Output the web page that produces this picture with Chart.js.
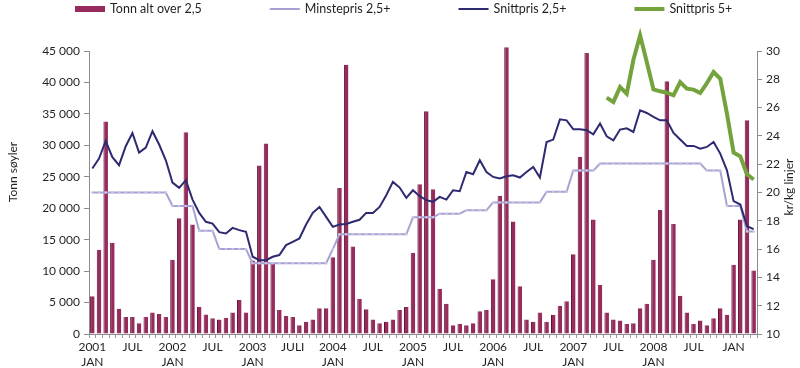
<!DOCTYPE html>
<html>
<head>
<meta charset="utf-8">
<script src="https://cdn.jsdelivr.net/npm/chart.js@4.4.0/dist/chart.umd.min.js"></script>
<style>
  html, body { margin: 0; padding: 0; background: #fff; }
  #wrap { width: 800px; height: 368px; }
</style>
</head>
<body>
<div id="wrap"><canvas id="chartTonn"></canvas></div>
<script>
// ===============================
// DATA (månedlig, jan 2001 – apr 2009)
// ===============================
const aarListe = ["2001", "2002", "2003", "2004", "2005", "2006", "2007", "2008", "2009"];
const mndListe = ["JAN", "FEB", "MAR", "APR", "MAI", "JUN", "JUL", "AUG", "SEP", "OKT", "NOV", "DES"];

// tick-tekster hvert halvår (jan/jul)
const tickTekster = [
    ["2001", "JAN"], "JUL", ["2002", "JAN"], "JUL", ["2003", "JAN"], "JULI",
    ["2004", "JAN"], "JUL", ["2005", "JAN"], "JUL", ["2006", "JAN"], "JUL",
    ["2007", "JAN"], "JUL", ["2008", "JAN"], "JUL", "JAN"
];

const tonnAltOver25 = [
    6000, 13400, 33800, 14500, 4000, 2700, 2700, 1700, 2700, 3400, 3200, 2700,
    11800, 18400, 32100, 17400, 4300, 3100, 2500, 2300, 2600, 3400, 5400, 3400,
    11700, 26800, 30300, 11300, 3800, 2850, 2700, 1400, 1950, 2300, 4100, 4100,
    12200, 23200, 42800, 13900, 5600, 3950, 2300, 1700, 1950, 2300, 3800, 4300,
    12900, 23800, 35400, 23000, 7200, 4800, 1400, 1600, 1400, 1700, 3600, 3800,
    8700, 22000, 45600, 17900, 7600, 2300, 1950, 3400, 1950, 3050, 4500, 5200,
    12700, 28200, 44700, 18200, 7800, 3400, 2300, 2150, 1600, 1700, 4100, 4800,
    11800, 19700, 40200, 17500, 6100, 3400, 1600, 2150, 1400, 2500, 4100, 3050,
    11000, 18200, 34000, 10100
];

const minstepris25 = [
    20, 20, 20, 20, 20, 20, 20, 20, 20, 20, 20, 20,
    19.05, 19.05, 19.05, 19.05, 17.3, 17.3, 17.3, 16, 16, 16, 16, 16,
    15, 15, 15, 15, 15, 15, 15, 15, 15, 15, 15, 15,
    16, 17.05, 17.05, 17.05, 17.05, 17.05, 17.05, 17.05, 17.05, 17.05, 17.05, 17.05,
    18.25, 18.25, 18.25, 18.25, 18.5, 18.5, 18.5, 18.5, 18.75, 18.75, 18.75, 18.75,
    19.3, 19.3, 19.3, 19.3, 19.3, 19.3, 19.3, 19.3, 20.05, 20.05, 20.05, 20.05,
    21.55, 21.55, 21.55, 21.55, 22.05, 22.05, 22.05, 22.05, 22.05, 22.05, 22.05, 22.05,
    22.05, 22.05, 22.05, 22.05, 22.05, 22.05, 22.05, 22.05, 21.55, 21.55, 21.55, 19.05,
    19.05, 19.05, 17.25, 17.25
];

const snittpris25 = [
    21.7, 22.4, 23.64, 22.5, 21.93, 23.27, 24.2, 22.82, 23.17, 24.33, 23.39, 22.28,
    20.7, 20.33, 20.87, 19.5, 18.56, 17.93, 17.8, 17.2, 17.1, 17.5, 17.34, 17.22,
    15.46, 15.22, 15.22, 15.46, 15.58, 16.28, 16.51, 16.75, 17.74, 18.56, 18.98, 18.28,
    17.57, 17.74, 17.77, 17.93, 18.07, 18.56, 18.56, 18.98, 19.81, 20.75, 20.35, 19.62,
    20.16, 19.74, 19.46, 19.34, 19.69, 19.5, 20.16, 20.09, 21.45, 21.29, 22.28, 21.45,
    21.1, 20.99, 21.15, 21.22, 21.06, 21.45, 21.81, 21.06, 23.57, 23.74, 25.17, 25.1,
    24.47, 24.47, 24.4, 24.11, 24.87, 23.97, 23.69, 24.45, 24.54, 24.28, 25.81, 25.62,
    25.34, 25.1, 25.1, 24.21, 23.74, 23.29, 23.29, 23.1, 23.22, 23.57, 22.75, 21.57,
    19.39, 19.15, 17.62, 17.41
];

// Snittpris 5+ starter juni 2007
const snittpris5Start = 77;
const snittpris5 = [
    26.7, 26.39, 27.45, 26.98, 29.38, 31.1, 29.22,
    27.29, 27.15, 27.05, 26.87, 27.8, 27.34, 27.27, 27.03, 27.73, 28.51, 28.04, 25.58,
    22.82, 22.56, 21.29, 20.92
];

// ===============================
// KATEGORIER
// ===============================
const maaneder = [];
aarListe.forEach(a => mndListe.forEach(m => maaneder.push(m + " " + a)));
maaneder.length = tonnAltOver25.length;

const snitt5Full = maaneder.map((_, i) =>
    i >= snittpris5Start ? snittpris5[i - snittpris5Start] : null);

const FONT = "Lato, 'Open Sans', sans-serif";
const TEKST = "#231f20";
const AKSE = "#8c8c8c";

const farger = {
    tonn: "#982b5e",
    minste: "#a7a2d3",
    snitt: "#2c2a70",
    snitt5: "#74a23c"
};

const fmtTusen = v => String(v).replace(/\B(?=(\d{3})+(?!\d))/g, " ");

// ===============================
// LEGENDE + AKSETITLER (egen plugin)
// ===============================
const legendeItems = [
    { tekst: "Tonn alt over 2,5", type: "bar", farge: farger.tonn },
    { tekst: "Minstepris 2,5+", type: "line", farge: farger.minste, bredde: 2 },
    { tekst: "Snittpris 2,5+", type: "line", farge: farger.snitt, bredde: 2 },
    { tekst: "Snittpris 5+", type: "line", farge: farger.snitt5, bredde: 4 }
];

const egenPynt = {
    id: "egenPynt",
    afterDraw(chart) {
        const ctx = chart.ctx;
        ctx.save();
        ctx.font = "12.5px " + FONT;
        ctx.fillStyle = TEKST;
        ctx.textBaseline = "middle";

        let x = 75;
        const y = 9;
        legendeItems.forEach(it => {
            if (it.type === "bar") {
                ctx.fillStyle = it.farge;
                ctx.fillRect(x, y - 3, 30, 6);
            } else {
                ctx.strokeStyle = it.farge;
                ctx.lineWidth = it.bredde;
                ctx.beginPath();
                ctx.moveTo(x, y);
                ctx.lineTo(x + 30, y);
                ctx.stroke();
            }
            ctx.fillStyle = TEKST;
            ctx.textAlign = "left";
            ctx.fillText(it.tekst, x + 35, y);
            x += 35 + ctx.measureText(it.tekst).width + 68;
        });

        // aksetitler
        ctx.font = "12px " + FONT;
        ctx.textAlign = "center";
        ctx.translate(13, 172);
        ctx.rotate(-Math.PI / 2);
        ctx.fillText("Tonn søyler", 0, 0);
        ctx.restore();

        ctx.save();
        ctx.font = "12px " + FONT;
        ctx.fillStyle = TEKST;
        ctx.textAlign = "center";
        ctx.textBaseline = "middle";
        ctx.translate(789, 187);
        ctx.rotate(-Math.PI / 2);
        ctx.fillText("kr/kg linjer", 0, 0);
        ctx.restore();
    }
};

// ===============================
// GRAF
// ===============================
const canvas = document.getElementById("chartTonn");

new Chart(canvas, {
    type: "bar",
    data: {
        labels: maaneder,
        datasets: [
            {
                type: "line",
                label: "Snittpris 5+",
                data: snitt5Full,
                yAxisID: "y1",
                borderColor: farger.snitt5,
                borderWidth: 4,
                pointRadius: 0,
                tension: 0,
                clip: false,
                order: 1
            },
            {
                type: "line",
                label: "Snittpris 2,5+",
                data: snittpris25,
                yAxisID: "y1",
                borderColor: farger.snitt,
                borderWidth: 2,
                pointRadius: 0,
                tension: 0,
                order: 2
            },
            {
                type: "line",
                label: "Minstepris 2,5+",
                data: minstepris25,
                yAxisID: "y1",
                borderColor: farger.minste,
                borderWidth: 2,
                pointRadius: 1.2,
                pointBorderWidth: 0,
                pointBackgroundColor: "#c9c6e6",
                tension: 0,
                order: 3
            },
            {
                type: "bar",
                label: "Tonn alt over 2,5",
                data: tonnAltOver25,
                yAxisID: "y",
                backgroundColor: farger.tonn,
                borderColor: "#5e1235",
                borderWidth: { left: 1, right: 0, top: 0, bottom: 0 },
                borderSkipped: false,
                barPercentage: 0.68,
                categoryPercentage: 1,
                clip: false,
                order: 4
            }
        ]
    },
    plugins: [egenPynt],
    options: {
        responsive: true,
        maintainAspectRatio: false,
        animation: false,
        layout: { padding: { top: 51, left: 0, right: 0, bottom: 0 } },
        plugins: {
            legend: { display: false },
            tooltip: { enabled: false }
        },
        scales: {
            x: {
                offset: true,
                grid: {
                    offset: true,
                    drawOnChartArea: false,
                    tickLength: 4,
                    color: "#9a9a9a"
                },
                border: { color: AKSE },
                ticks: {
                    autoSkip: false,
                    maxRotation: 0,
                    padding: 2,
                    color: TEKST,
                    font: { family: FONT, size: 12, lineHeight: 1.25 },
                    callback: (v, i) => (i % 6 === 0 ? tickTekster[i / 6] || "" : "")
                },
                afterFit: s => { s.height = 34; }
            },
            y: {
                position: "left",
                min: 0,
                max: 45000,
                grid: {
                    drawOnChartArea: false,
                    tickLength: 5,
                    color: AKSE
                },
                border: { color: AKSE },
                ticks: {
                    stepSize: 5000,
                    padding: 4,
                    color: TEKST,
                    font: { family: FONT, size: 12 },
                    callback: v => fmtTusen(v)
                },
                afterFit: s => { s.width = 89; }
            },
            y1: {
                position: "right",
                min: 10,
                max: 30,
                grid: {
                    drawOnChartArea: false,
                    tickLength: 5,
                    color: AKSE
                },
                border: { color: AKSE },
                ticks: {
                    stepSize: 2,
                    padding: 4,
                    color: TEKST,
                    font: { family: FONT, size: 12 }
                },
                afterFit: s => { s.width = 43; }
            }
        }
    }
});
</script>
</body>
</html>
